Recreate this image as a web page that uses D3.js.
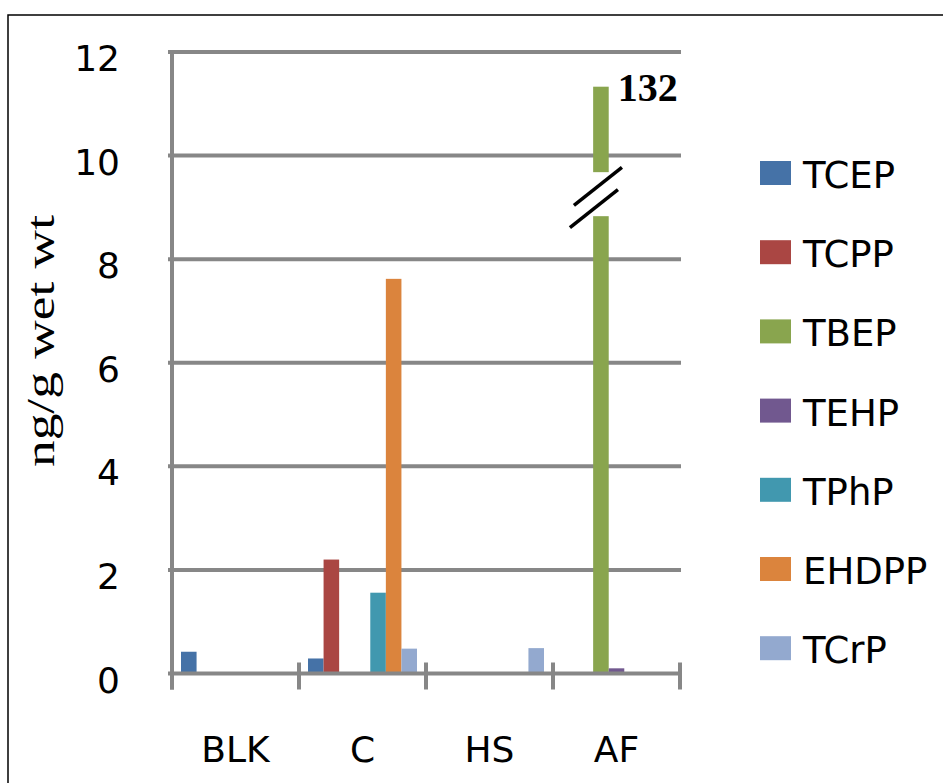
<!DOCTYPE html>
<html>
<head>
<meta charset="utf-8">
<script src="https://cdn.jsdelivr.net/npm/d3@7"></script>
<style>
  body { margin: 0; background: #fff; }
  svg { display: block; }
</style>
</head>
<body>
<script>
var width = 943
var height = 783

// data
var categories = ['BLK', 'C', 'HS', 'AF']
var series = ['TCEP', 'TCPP', 'TBEP', 'TEHP', 'TPhP', 'EHDPP', 'TCrP']
var colours = ['#4572A7', '#AA4643', '#89A54E', '#71588F', '#4198AF', '#DB843D', '#93A9CF']
var valuesBLK = [0.42, 0, 0, 0, 0, 0, 0]
var valuesC = [0.29, 2.2, 0, 0, 1.56, 7.62, 0.48]
var valuesHS = [0, 0, 0, 0, 0, 0, 0.49]
var valuesAF = [0, 0, 132, 0.1, 0, 0, 0]
var yTicks = [0, 2, 4, 6, 8, 10, 12]

// axis break used for the off-scale bar
var breakLow = 8.83
var breakHigh = 9.68
var breakTop = 11.33

var table = [valuesBLK, valuesC, valuesHS, valuesAF]

var svg = d3.select('body').append('svg')
  .attr('width', width)
  .attr('height', height)

// outer frame
svg.append('rect')
  .attr('x', 8).attr('y', 15)
  .attr('width', 1000).attr('height', 1000)
  .attr('fill', 'none')
  .attr('stroke', '#000')
  .attr('stroke-width', 1.5)

var x0 = d3.scaleBand().domain(categories).range([172, 680])
var x1 = d3.scaleBand().domain(series).range([9, x0.bandwidth() - 9])
var y = d3.scaleLinear().domain([0, 12]).range([673.5, 52])

var grey = '#878787'

// gridlines
svg.append('g').selectAll('line')
  .data(yTicks.filter(function (d) { return d > 0 }))
  .enter().append('line')
  .attr('x1', 168).attr('x2', 681)
  .attr('y1', function (d) { return y(d) })
  .attr('y2', function (d) { return y(d) })
  .attr('stroke', grey)
  .attr('stroke-width', 4)

// bars
var groups = svg.append('g').selectAll('g')
  .data(table)
  .enter().append('g')
  .attr('transform', function (d, i) { return 'translate(' + x0(categories[i]) + ',0)' })

groups.selectAll('rect')
  .data(function (d) { return d.map(function (v, j) { return { key: series[j], value: v, col: colours[j] } }) })
  .enter().append('rect')
  .filter(function (d) { return d.value > 0 })
  .attr('x', function (d) { return x1(d.key) })
  .attr('width', x1.bandwidth())
  .attr('y', function (d) { return y(d.value > 12 ? breakLow : d.value) })
  .attr('height', function (d) { return y(0) - y(d.value > 12 ? breakLow : d.value) })
  .attr('fill', function (d) { return d.col })

// upper part of the broken bar + label
table.forEach(function (row, i) {
  row.forEach(function (v, j) {
    if (v <= 12) return
    var bx = x0(categories[i]) + x1(series[j])
    var bw = x1.bandwidth()
    var cx = bx + bw / 2
    svg.append('rect')
      .attr('x', bx).attr('width', bw)
      .attr('y', y(breakTop))
      .attr('height', y(breakHigh) - y(breakTop))
      .attr('fill', colours[j])
    var mid = (breakLow + breakHigh) / 2
    ;[[mid + 0.15, -3], [mid - 0.28, -7]].forEach(function (m) {
      svg.append('line')
        .attr('x1', cx + m[1] - 24).attr('x2', cx + m[1] + 24)
        .attr('y1', y(m[0]) + 19).attr('y2', y(m[0]) - 19)
        .attr('stroke', '#000')
        .attr('stroke-width', 3.5)
    })
    svg.append('text')
      .attr('x', bx + bw + 9)
      .attr('y', y(breakTop) + 14)
      .attr('font-family', 'Liberation Serif, serif')
      .attr('font-weight', 'bold')
      .attr('font-size', 40)
      .text(v)
  })
})

// x axis line and cross ticks
svg.append('line')
  .attr('x1', 168).attr('x2', 682)
  .attr('y1', y(0)).attr('y2', y(0))
  .attr('stroke', grey).attr('stroke-width', 4)

svg.append('g').selectAll('line')
  .data(categories.map(function (c) { return x0(c) }).concat([x0.range()[1]]))
  .enter().append('line')
  .attr('x1', function (d) { return d }).attr('x2', function (d) { return d })
  .attr('y1', y(0) - 11).attr('y2', y(0) + 16)
  .attr('stroke', grey).attr('stroke-width', 4)

// y axis line
svg.append('line')
  .attr('x1', 172).attr('x2', 172)
  .attr('y1', y(12) - 2).attr('y2', y(0) + 16)
  .attr('stroke', grey).attr('stroke-width', 4)

// y tick labels
svg.append('g').selectAll('text')
  .data(yTicks)
  .enter().append('text')
  .attr('x', 120)
  .attr('y', function (d) { return y(d) + 19 })
  .attr('text-anchor', 'end')
  .attr('font-family', 'DejaVu Sans, sans-serif')
  .attr('font-size', 36)
  .text(function (d) { return d })

// category labels
svg.append('g').selectAll('text')
  .data(categories)
  .enter().append('text')
  .attr('x', function (d) { return x0(d) + x0.bandwidth() / 2 })
  .attr('y', 762)
  .attr('text-anchor', 'middle')
  .attr('font-family', 'DejaVu Sans, sans-serif')
  .attr('font-size', 36)
  .text(function (d) { return d })

// y axis title
svg.append('text')
  .attr('transform', 'translate(54,341) rotate(-90)')
  .attr('text-anchor', 'middle')
  .attr('font-family', 'Liberation Serif, serif')
  .attr('font-size', 40)
  .attr('textLength', 252)
  .attr('lengthAdjust', 'spacingAndGlyphs')
  .text('ng/g wet wt')

// legend
var legend = svg.append('g').selectAll('g')
  .data(series)
  .enter().append('g')
  .attr('transform', function (d, i) { return 'translate(760,' + (161 + i * 79.2) + ')' })

legend.append('rect')
  .attr('width', 31).attr('height', 24)
  .attr('fill', function (d, i) { return colours[i] })

legend.append('text')
  .attr('x', 43).attr('y', 27)
  .attr('font-family', 'DejaVu Sans, sans-serif')
  .attr('font-size', 37)
  .text(function (d) { return d })
</script>
</body>
</html>
